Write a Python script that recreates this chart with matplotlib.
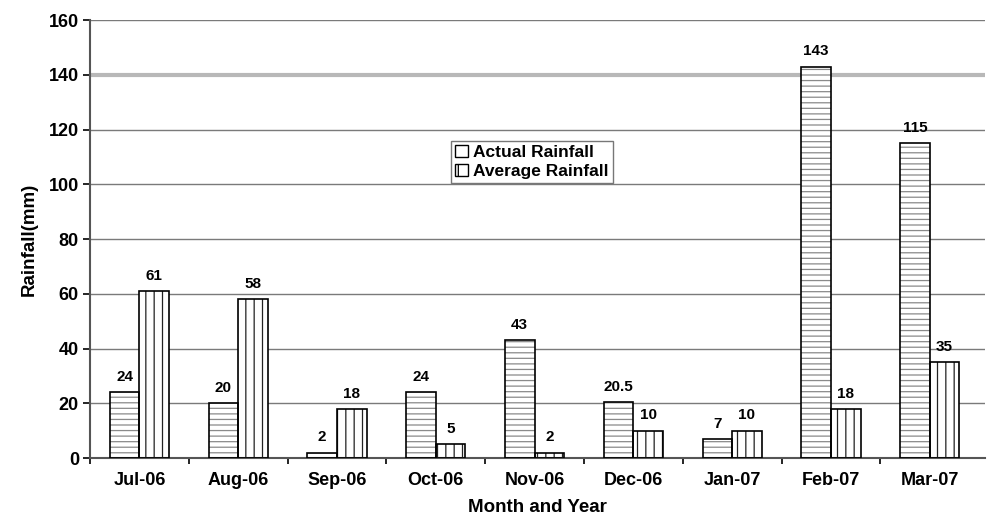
import numpy as np
import matplotlib.pyplot as plt
from matplotlib.patches import Patch

plt.rcParams['font.family'] = ['Liberation Sans', 'DejaVu Sans']
plt.rcParams['font.weight'] = 'bold'
plt.rcParams['hatch.linewidth'] = 0.9

months = ["Jul-06", "Aug-06", "Sep-06", "Oct-06", "Nov-06",
          "Dec-06", "Jan-07", "Feb-07", "Mar-07"]
actual = [24, 20, 2, 24, 43, 20.5, 7, 143, 115]
average = [61, 58, 18, 5, 2, 10, 10, 18, 35]
actual_labels = ["24", "20", "2", "24", "43", "20.5", "7", "143", "115"]
average_labels = ["61", "58", "18", "5", "2", "10", "10", "18", "35"]

fig = plt.figure(figsize=(9.89, 5.17), dpi=100)
ax = fig.add_axes([0.091, 0.114, 0.905, 0.847])

x = np.arange(len(months))
w = 0.3

# grid
for v in range(20, 161, 20):
    if v == 140:
        ax.axhline(v, color="#b8b8b8", lw=3, zorder=0)
    else:
        ax.axhline(v, color="#7a7a7a", lw=1, zorder=0)

# actual: fine grey horizontal hatch, black outline
ax.bar(x - w / 2, actual, w, color="white", edgecolor="#8a8a8a", hatch="---",
       linewidth=0, zorder=2)
ax.bar(x - w / 2, actual, w, fill=False, edgecolor="black", linewidth=1.2, zorder=3)
# average: vertical hatch
ax.bar(x + w / 2, average, w, color="white", edgecolor="#222222", hatch="||",
       linewidth=0, zorder=2)
ax.bar(x + w / 2, average, w, fill=False, edgecolor="black", linewidth=1.2, zorder=3)

for xi, v, s in zip(x, actual, actual_labels):
    ax.text(xi - w / 2, v + 3, s, ha="center", va="bottom", fontsize=11, fontweight="bold")
for xi, v, s in zip(x, average, average_labels):
    ax.text(xi + w / 2, v + 3, s, ha="center", va="bottom", fontsize=11, fontweight="bold")

h1 = Patch(facecolor="white", edgecolor="black", hatch="")
h2 = Patch(facecolor="white", edgecolor="black", hatch="|")
leg = ax.legend([h1, h2], ["Actual Rainfall", "Average Rainfall"],
                loc="upper left", bbox_to_anchor=(0.403, 0.725),
                fancybox=False, framealpha=1, edgecolor="#777777",
                fontsize=12.5, handlelength=0.75, handleheight=0.7,
                handletextpad=0.3, borderpad=0.25, labelspacing=0.2,
                borderaxespad=0)
for t in leg.get_texts():
    t.set_fontweight("bold")

ax.set_xlim(-0.5, len(months) - 0.5 + 0.06)
ax.set_ylim(0, 160)
ax.set_yticks(range(0, 161, 20))
ax.set_xticks(x)
ax.set_xticklabels(months, fontsize=13, fontweight="bold")
ax.set_xticks(np.arange(len(months)) - 0.5, minor=True)
ax.tick_params(axis="x", which="major", length=0, pad=10)
ax.tick_params(axis="x", which="minor", length=4, width=1.2, direction="out")
ax.tick_params(axis="y", length=5, width=1.2, labelsize=13, pad=3)
for lab in ax.get_yticklabels():
    lab.set_fontweight("bold")

for s in ["top", "right"]:
    ax.spines[s].set_visible(False)
ax.spines["left"].set_color("#555555")
ax.spines["left"].set_linewidth(1.5)
ax.spines["bottom"].set_color("#555555")
ax.spines["bottom"].set_linewidth(1.5)

ax.set_xlabel("Month and Year", fontsize=13.5, fontweight="bold", labelpad=7)
ax.set_ylabel("Rainfall(mm)", fontsize=13.5, fontweight="bold", labelpad=8)

fig.savefig("out.png", dpi=100)
